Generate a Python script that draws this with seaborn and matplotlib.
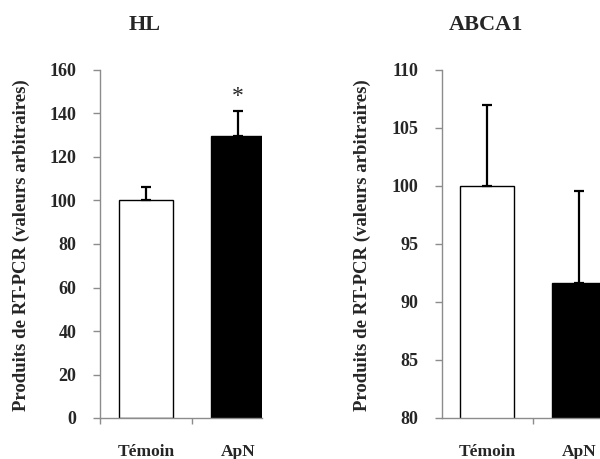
import matplotlib
matplotlib.use('Agg')
import matplotlib.pyplot as plt
import seaborn as sns
import pandas as pd

sns.set_style('white')
plt.rcParams['font.family'] = ['Liberation Serif', 'DejaVu Serif']
plt.rcParams['font.weight'] = 'bold'

# Data
groups = ['Témoin', 'ApN']
hl_mean = [100, 129.5]
hl_err = [6, 11.5]
abca1_mean = [100, 91.6]
abca1_err = [7.0, 8.0]

ylabel = 'Produits de RT-PCR (valeurs arbitraires)'

fig = plt.figure(figsize=(6, 4.59), dpi=100)
ax1 = fig.add_axes([100 / 600, 41 / 459, 162 / 600, 348 / 459])
ax2 = fig.add_axes([442 / 600, 41 / 459, 158 / 600, 348 / 459])

panels = [
    (ax1, 'HL', hl_mean, hl_err, (0, 160), [0, 20, 40, 60, 80, 100, 120, 140, 160], (-0.5, 1.26), 145, 21),
    (ax2, 'ABCA1', abca1_mean, abca1_err, (80, 110), [80, 85, 90, 95, 100, 105, 110], (-0.49, 1.23), 486, 362),
]

for ax, title, mean, err, ylim, yticks, xlim, title_x, lab_x in panels:
    df = pd.DataFrame({'groupe': groups, 'valeur': mean})
    sns.barplot(data=df, x='groupe', y='valeur', hue='groupe',
                palette=['white', 'black'], edgecolor='black', linewidth=1,
                width=0.59, legend=False, ax=ax)
    ax.errorbar(range(len(groups)), mean, yerr=[[0] * len(err), err],
                fmt='none', ecolor='black', elinewidth=1.6, capsize=3.3, capthick=1.6)
    ax.set_yticks(yticks)
    ax.set_yticklabels([str(t) for t in yticks], fontsize=13, fontweight='bold')
    ax.set_xticks([0, 1])
    ax.set_xticklabels(groups, fontsize=12.5, fontweight='bold')
    ax.set_xticks([-0.5, 0.5, 1.5], minor=True)
    ax.set_ylim(ylim)
    ax.set_xlim(xlim)
    ax.tick_params(axis='x', which='major', length=0, pad=19)
    ax.tick_params(axis='x', which='minor', length=4, width=1, color='#8c8c8c', direction='out', bottom=True)
    ax.tick_params(axis='y', length=5, width=1, color='#8c8c8c', direction='out', left=True, pad=12)
    for s in ['top', 'right']:
        ax.spines[s].set_visible(False)
    for s in ['left', 'bottom']:
        ax.spines[s].set_color('#8c8c8c')
        ax.spines[s].set_linewidth(1)
    ax.set_xlabel('')
    ax.set_ylabel('')
    fig.text(title_x / 600, 1 - 25 / 459, title, ha='center', va='center',
             fontsize=16, fontweight='bold')
    fig.text(lab_x / 600, 1 - 245 / 459, ylabel, ha='center', va='center',
             rotation=90, fontsize=13.5, fontweight='bold')

ax1.text(1, 148, '*', ha='center', va='center', fontsize=17, fontweight='normal')

fig.savefig('out.png', dpi=100)
